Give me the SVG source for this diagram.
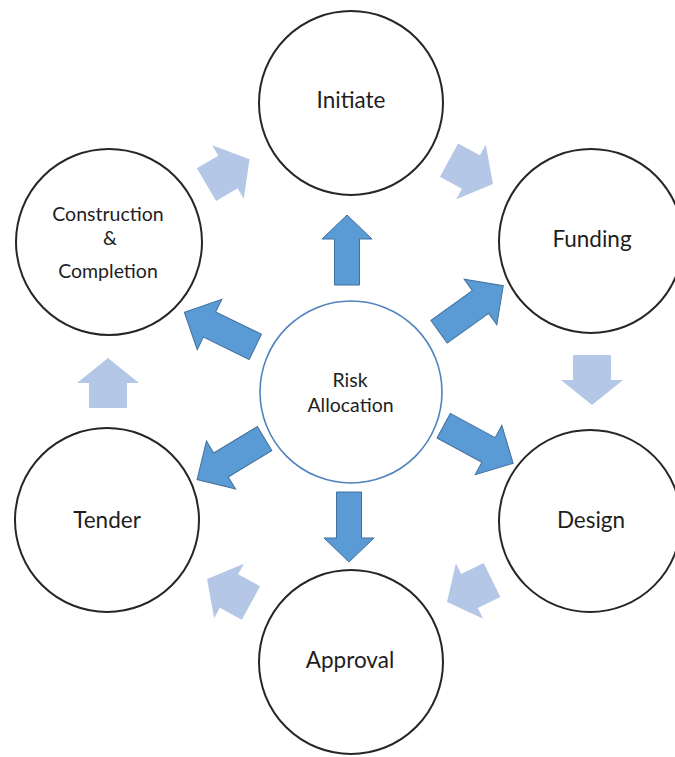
<svg xmlns="http://www.w3.org/2000/svg" xmlns:xlink="http://www.w3.org/1999/xlink" width="675" height="757" viewBox="0 0 675 757">
  <style>
    .stage { fill: #ffffff; stroke: #262626; stroke-width: 2; }
    .hub { fill: #ffffff; stroke: #4f83bd; stroke-width: 1.6; }
    .lbl { font-family: Lato, "Open Sans", sans-serif; fill: #1e1e1e; text-anchor: middle; }
    .big { font-size: 22.5px; }
    .small { font-size: 19.5px; }
    .dark { fill: #5b9bd5; stroke: #41719c; stroke-width: 1; }
    .light { fill: #b4c7e7; }
  </style>
  <defs>
    <!-- block arrows, origin at the middle of the head base, pointing +x -->
    <path id="arrowLight" d="M-25,-19 H0 V-31 L25,0 L0,31 V19 H-25 Z"/>
    <path id="arrowDiag" d="M-51,-14 H0 V-28 L28,0 L0,28 V14 H-51 Z"/>
    <path id="arrowAxis" d="M-46,-12.5 H0 V-25 L24,0 L0,25 V12.5 H-46 Z"/>
  </defs>
  <rect width="675" height="757" fill="#ffffff"/>

  <g id="connectors">
    <!-- cycle between stages -->
    <use xlink:href="#arrowLight" class="light" transform="translate(228,172) rotate(-30.6)"/>
    <use xlink:href="#arrowLight" class="light" transform="translate(471,172) rotate(28.4)"/>
    <use xlink:href="#arrowLight" class="light" transform="translate(592,380) rotate(90)"/>
    <use xlink:href="#arrowLight" class="light" transform="translate(469.5,591) rotate(154)"/>
    <use xlink:href="#arrowLight" class="light" transform="translate(229,591) rotate(208.7)"/>
    <use xlink:href="#arrowLight" class="light" transform="translate(108,383) rotate(-90)"/>
    <!-- from the hub out to each stage -->
    <use xlink:href="#arrowAxis" class="dark" transform="translate(347,239) rotate(-90)"/>
    <use xlink:href="#arrowAxis" class="dark" transform="translate(349,538) rotate(90)"/>
    <use xlink:href="#arrowDiag" class="dark" transform="translate(480.5,302) rotate(-35.6)"/>
    <use xlink:href="#arrowDiag" class="dark" transform="translate(209.5,324.5) rotate(206)"/>
    <use xlink:href="#arrowDiag" class="dark" transform="translate(221,465) rotate(148.7)"/>
    <use xlink:href="#arrowDiag" class="dark" transform="translate(488.5,450) rotate(28.4)"/>
  </g>

  <g id="initiate">
    <circle class="stage" cx="351" cy="103" r="92"/>
    <text class="lbl big" x="351" y="108">Initiate</text>
  </g>
  <g id="funding">
    <circle class="stage" cx="591" cy="241" r="92"/>
    <text class="lbl big" x="592" y="247">Funding</text>
  </g>
  <g id="design">
    <circle class="stage" cx="590" cy="521" r="91"/>
    <text class="lbl big" x="591" y="528">Design</text>
  </g>
  <g id="approval">
    <circle class="stage" cx="351" cy="662" r="92"/>
    <text class="lbl big" x="350" y="668">Approval</text>
  </g>
  <g id="tender">
    <circle class="stage" cx="107" cy="520" r="92"/>
    <text class="lbl big" x="107" y="528">Tender</text>
  </g>
  <g id="construction">
    <circle class="stage" cx="109" cy="242" r="93"/>
    <text class="lbl small" x="108" y="221">Construction</text>
    <text class="lbl small" x="110" y="245">&amp;</text>
    <text class="lbl small" x="108" y="278">Completion</text>
  </g>
  <g id="risk-allocation">
    <circle class="hub" cx="351" cy="392" r="91"/>
    <text class="lbl small" x="350" y="387">Risk</text>
    <text class="lbl small" x="350.5" y="412">Allocation</text>
  </g>
</svg>
